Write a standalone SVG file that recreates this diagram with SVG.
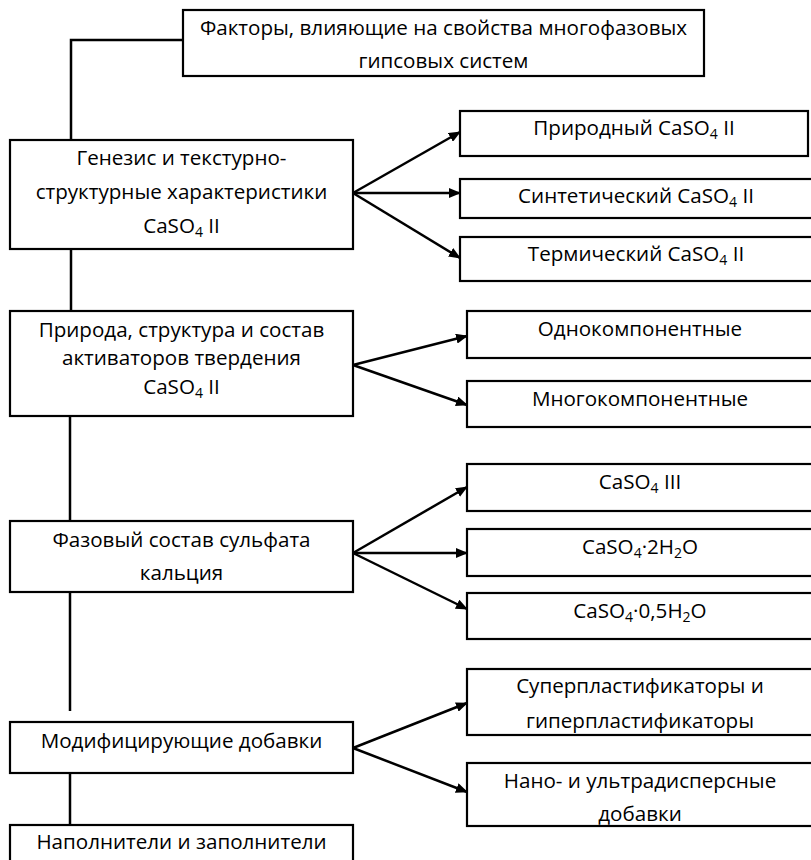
<svg xmlns="http://www.w3.org/2000/svg" width="811" height="860" viewBox="0 0 811 860">
<defs>
<marker id="ah" markerWidth="12" markerHeight="10" refX="11" refY="5" orient="auto" markerUnits="userSpaceOnUse">
<path d="M0,0 L12,5 L0,10 Z" fill="#000"/>
</marker>
<style>
.box{fill:#fff;stroke:#000;stroke-width:2.2}
.t{font-family:"Open Sans","DejaVu Sans",sans-serif;font-size:20.6px;fill:#000;text-anchor:middle}
.ln{stroke:#000;stroke-width:2.5;fill:none}
.ar{stroke:#000;stroke-width:2.5;fill:none;marker-end:url(#ah)}
.s{font-size:14px}
</style>
</defs>
<rect width="811" height="860" fill="#fff"/>
<g id="connectors">
<path class="ln" d="M183,40 H71 V140"/>
<path class="ln" d="M71,249 V311"/>
<path class="ln" d="M70,416 V521"/>
<path class="ln" d="M70,592 V711"/>
<path class="ln" d="M70,773 V825"/>
<path class="ar" d="M353,193 L460,132"/>
<path class="ar" d="M353,193 L460,193"/>
<path class="ar" d="M353,193 L460,258"/>
<path class="ar" d="M353,365 L467,336"/>
<path class="ar" d="M353,365 L467,405"/>
<path class="ar" d="M353,553 L467,487"/>
<path class="ar" d="M353,553 L467,553"/>
<path class="ar" d="M353,553 L467,609"/>
<path class="ar" d="M353,748 L467,703"/>
<path class="ar" d="M353,748 L467,792"/>
</g>
<g id="n-title">
<rect class="box" x="183" y="10" width="521" height="66"/>
<text class="t" x="443.5" y="35">Факторы, влияющие на свойства многофазовых</text>
<text class="t" x="443.5" y="68">гипсовых систем</text>
</g>
<g id="n-genesis">
<rect class="box" x="10" y="140" width="343" height="109"/>
<text class="t" x="181.5" y="165">Генезис и текстурно-</text>
<text class="t" x="181.5" y="199">структурные характеристики</text>
<text class="t" x="181.5" y="233">CaSO<tspan class="s" dy="4">4</tspan><tspan dy="-4"> II</tspan></text>
</g>
<g id="n-natural">
<rect class="box" x="460" y="111" width="348" height="45"/>
<text class="t" x="634" y="135">Природный CaSO<tspan class="s" dy="4">4</tspan><tspan dy="-4"> II</tspan></text>
</g>
<g id="n-synthetic">
<rect class="box" x="460" y="179" width="353" height="39"/>
<text class="t" x="636" y="203">Синтетический CaSO<tspan class="s" dy="4">4</tspan><tspan dy="-4"> II</tspan></text>
</g>
<g id="n-thermal">
<rect class="box" x="460" y="237" width="353" height="44"/>
<text class="t" x="636" y="261">Термический CaSO<tspan class="s" dy="4">4</tspan><tspan dy="-4"> II</tspan></text>
</g>
<g id="n-activators">
<rect class="box" x="10" y="311" width="343" height="105"/>
<text class="t" x="181.5" y="337">Природа, структура и состав</text>
<text class="t" x="181.5" y="365">активаторов твердения</text>
<text class="t" x="181.5" y="394">CaSO<tspan class="s" dy="4">4</tspan><tspan dy="-4"> II</tspan></text>
</g>
<g id="n-mono">
<rect class="box" x="467" y="311" width="346" height="47"/>
<text class="t" x="640" y="336">Однокомпонентные</text>
</g>
<g id="n-multi">
<rect class="box" x="467" y="381" width="346" height="46"/>
<text class="t" x="640" y="406">Многокомпонентные</text>
</g>
<g id="n-phase">
<rect class="box" x="10" y="521" width="343" height="71"/>
<text class="t" x="181.5" y="547">Фазовый состав сульфата</text>
<text class="t" x="181.5" y="580">кальция</text>
</g>
<g id="n-caso4-3">
<rect class="box" x="467" y="464" width="346" height="47"/>
<text class="t" x="640" y="489">CaSO<tspan class="s" dy="4">4</tspan><tspan dy="-4"> III</tspan></text>
</g>
<g id="n-dihydrate">
<rect class="box" x="467" y="529" width="346" height="47"/>
<text class="t" x="640" y="554">CaSO<tspan class="s" dy="4">4</tspan><tspan dy="-4">·2H</tspan><tspan class="s" dy="4">2</tspan><tspan dy="-4">O</tspan></text>
</g>
<g id="n-hemihydrate">
<rect class="box" x="467" y="593" width="346" height="46"/>
<text class="t" x="640" y="618">CaSO<tspan class="s" dy="4">4</tspan><tspan dy="-4">·0,5H</tspan><tspan class="s" dy="4">2</tspan><tspan dy="-4">O</tspan></text>
</g>
<g id="n-modifiers">
<rect class="box" x="10" y="722" width="343" height="51"/>
<text class="t" x="181.5" y="748">Модифицирующие добавки</text>
</g>
<g id="n-plasticizers">
<rect class="box" x="467" y="669" width="346" height="66"/>
<text class="t" x="640" y="693">Суперпластификаторы и</text>
<text class="t" x="640" y="728">гиперпластификаторы</text>
</g>
<g id="n-nano">
<rect class="box" x="467" y="763" width="346" height="63"/>
<text class="t" x="640" y="788">Нано- и ультрадисперсные</text>
<text class="t" x="640" y="821">добавки</text>
</g>
<g id="n-fillers">
<rect class="box" x="10" y="825" width="343" height="45"/>
<text class="t" x="181.5" y="849">Наполнители и заполнители</text>
</g>
</svg>
